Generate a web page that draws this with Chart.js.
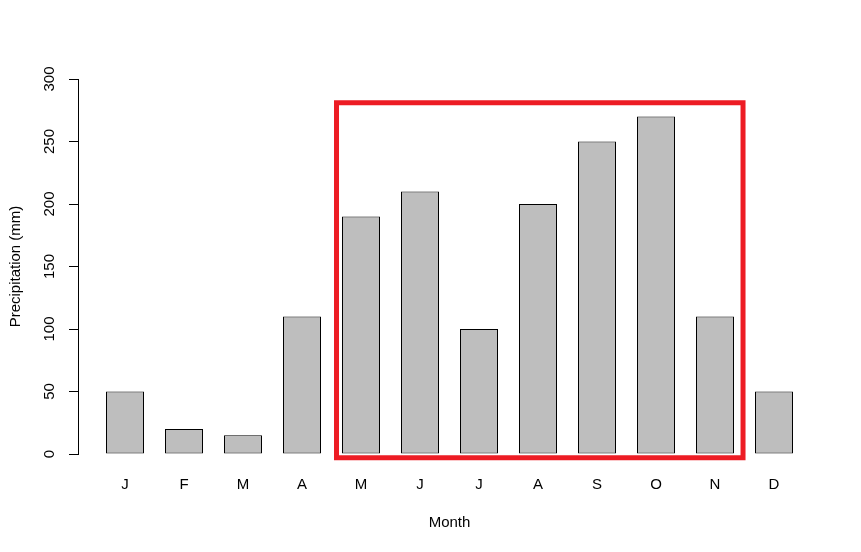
<!DOCTYPE html>
<html>
<head>
<meta charset="utf-8">
<script src="https://cdn.jsdelivr.net/npm/chart.js@4"></script>
<style>
    body { margin: 0; background: #fff; }
    #wrap { width: 861px; height: 552px; }
</style>
</head>
<body>
<div id="wrap"><canvas id="hujanChart" width="861" height="552"></canvas></div>
<script>
const months = ["J", "F", "M", "A", "M", "J", "J", "A", "S", "O", "N", "D"];
const precip = [50, 20, 15, 110, 190, 210, 100, 200, 250, 270, 110, 50];
const yTicks = [0, 50, 100, 150, 200, 250, 300];

// kotak merah penanda musim hujan (koordinat data)
const highlight = { xFrom: 3.585, xTo: 10.475, yFrom: -3, yTo: 281 };

const fontR = { family: "'Liberation Sans', Arial, sans-serif", size: 15 };

const boxPlugin = {
    id: "highlightBox",
    afterDatasetsDraw(chart) {
        const { ctx, scales: { x, y } } = chart;
        const x1 = x.getPixelForValue(highlight.xFrom);
        const x2 = x.getPixelForValue(highlight.xTo);
        const y1 = y.getPixelForValue(highlight.yTo);
        const y2 = y.getPixelForValue(highlight.yFrom);
        ctx.save();
        ctx.strokeStyle = "#ED1C24";
        ctx.lineWidth = 5;
        ctx.strokeRect(x1, y1, x2 - x1, y2 - y1);
        ctx.restore();
    }
};

const ctx = document.getElementById("hujanChart").getContext("2d");
const hujanChart = new Chart(ctx, {
    type: "bar",
    data: {
        datasets: [{
            data: precip.map((v, i) => ({ x: i, y: v })),
            backgroundColor: "#BEBEBE",
            borderColor: "#000000",
            borderWidth: 1,
            borderSkipped: false,
            categoryPercentage: 1,
            barPercentage: 38 / 59
        }]
    },
    options: {
        responsive: false,
        animation: false,
        layout: { padding: { top: 79, right: 40, left: 0, bottom: 0 } },
        plugins: {
            legend: { display: false },
            tooltip: { enabled: false }
        },
        scales: {
            x: {
                type: "linear",
                offset: false,
                min: -47 / 59,
                max: 11 + 47 / 59,
                grid: { display: false, drawTicks: false },
                border: { display: false },
                afterFit: s => { s.height = 98; },
                ticks: {
                    stepSize: 1,
                    includeBounds: false,
                    autoSkip: false,
                    maxRotation: 0,
                    padding: 22,
                    color: "#000",
                    font: fontR,
                    callback: v => Number.isInteger(v) ? months[v] : ""
                },
                title: {
                    display: true,
                    text: "Month",
                    color: "#000",
                    font: fontR,
                    padding: { top: 0, bottom: 20 }
                }
            },
            y: {
                min: 0,
                max: 300,
                afterFit: s => { s.width = 78; },
                afterBuildTicks: s => { s.ticks = yTicks.map(v => ({ value: v })); },
                grid: { drawOnChartArea: false, tickLength: 9, color: "#000" },
                border: { color: "#000" },
                ticks: {
                    minRotation: 90,
                    maxRotation: 90,
                    crossAlign: "center",
                    padding: 6.5,
                    color: "#000",
                    font: fontR
                },
                title: {
                    display: true,
                    text: "Precipitation (mm)",
                    color: "#000",
                    font: fontR,
                    padding: { top: 7, bottom: 0 }
                }
            }
        }
    },
    plugins: [boxPlugin]
});
</script>
</body>
</html>
